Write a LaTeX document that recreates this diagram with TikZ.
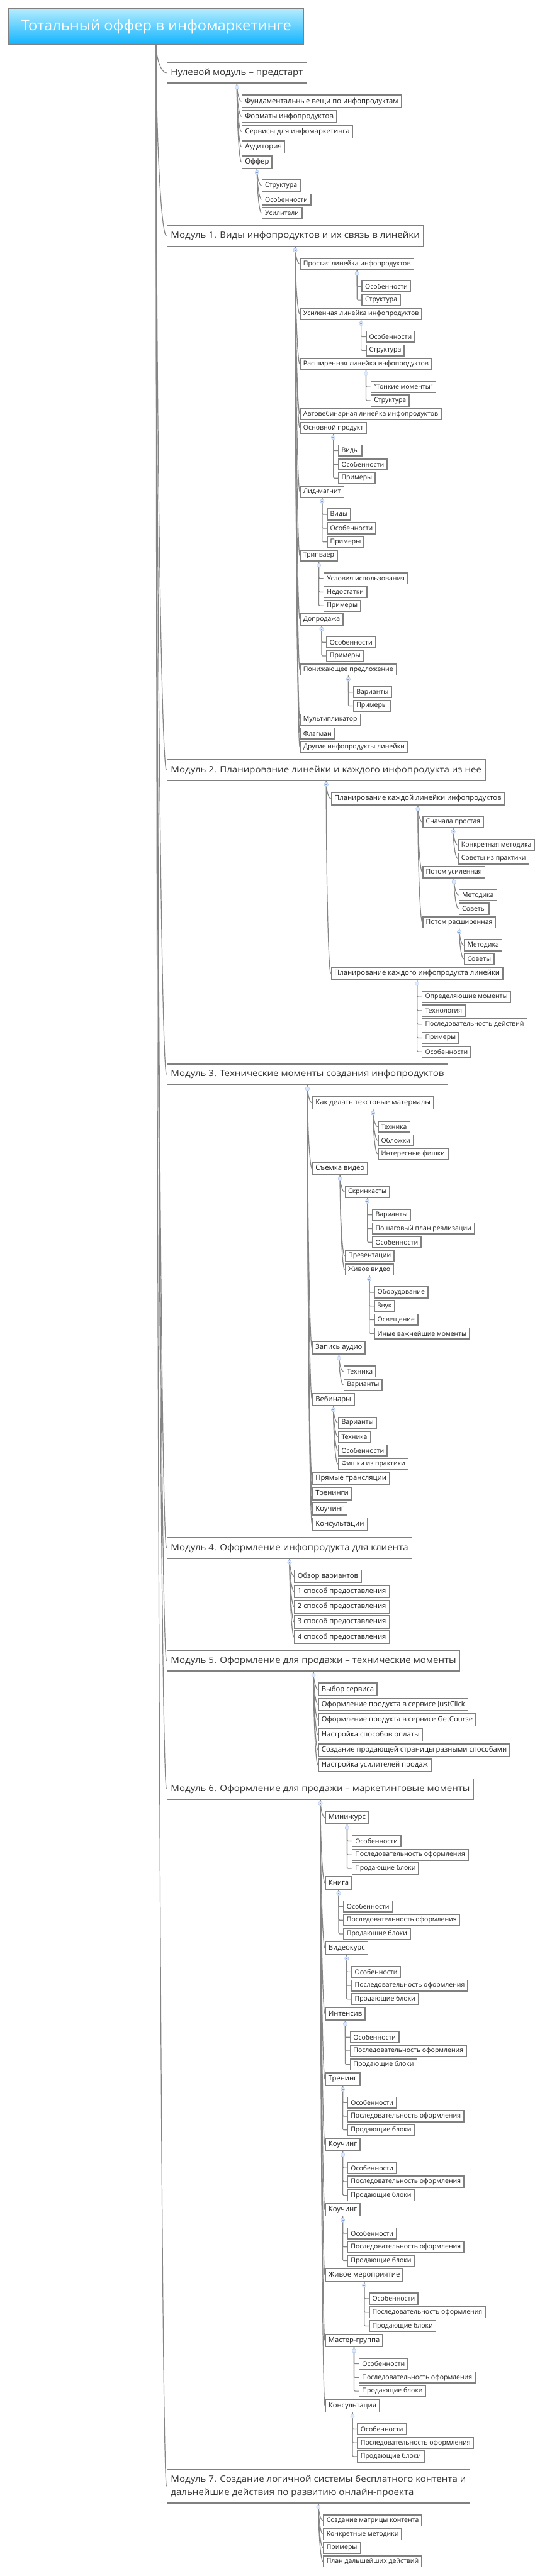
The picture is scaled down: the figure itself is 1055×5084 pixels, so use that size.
\documentclass[tikz,border=0pt]{standalone}
\usepackage{fontspec}
\setmainfont{Open Sans}
\newfontfamily\modfont{Open Sans}[FakeStretch=1.1]
\newfontfamily\titlefont{Open Sans}[FakeStretch=1.05]
\usetikzlibrary{calc}
\definecolor{bord}{HTML}{808080}
\definecolor{lin}{HTML}{858585}
\definecolor{knobf}{HTML}{DDE9FC}
\definecolor{knobd}{HTML}{AFC8F2}
\definecolor{knobm}{HTML}{7E9FD8}
\definecolor{ttop}{HTML}{B4ECFE}
\definecolor{tbot}{HTML}{12B3FE}
\definecolor{txt}{HTML}{1E1E1E}
\definecolor{mtxt}{HTML}{333333}
\tikzset{
 box/.style={draw=bord, line width=2pt, fill=white, text=txt, inner ysep=0pt, inner xsep=6pt},
 big/.style={box, font=\fontsize{14}{16}\selectfont, minimum height=24.7pt},
 sml/.style={box, font=\fontsize{13}{15}\selectfont, minimum height=21.8pt},
 modbox/.style={box, text=mtxt, font=\modfont\fontsize{17}{26.7}\selectfont, minimum height=40.3pt, inner xsep=7.5pt},
 conn/.style={draw=lin, line width=1.5pt},
}
\newcommand\kid[5]{\path (#2.south); \pgfgetlastxy{\kx}{\ky}%
  \node[#4, anchor=north west] (#1) at (\kx+9pt, -#3pt) {#5};}
\newcommand\mdl[3]{\node[modbox, anchor=north west] (#1) at (328.4pt, -#2pt) {#3};}
\newcommand\cv[2]{\draw[conn] (#1.south) .. controls ($(#1.south)!0.5!(#1.south|-#2.west)$) and ($(#1.south|-#2.west)!0.5!(#2.west)$) .. (#2.west);}
\newcommand\el[2]{\draw[conn, rounded corners=2pt] (#1.south) |- (#2.west);}
\newcommand\knob[1]{\filldraw[fill=knobf, draw=knobd, line width=0.7pt] ([yshift=-7pt]#1.south) circle (4pt);
  \draw[knobm, line width=0.8pt] ([xshift=-1.8pt,yshift=-7pt]#1.south) -- ([xshift=1.8pt,yshift=-7pt]#1.south);}
\begin{document}
\begin{tikzpicture}[x=1pt, y=-1pt]
\useasboundingbox (0,0) rectangle (1055,5084);
\fill[white] (0,0) rectangle (1055,5084);
\node[draw=bord, line width=2pt, top color=ttop, bottom color=tbot, minimum width=582pt, minimum height=71pt, anchor=north west, text=white, font=\titlefont\fontsize{28}{32}\selectfont, inner sep=0pt] (r) at (16pt,-16pt) {Тотальный оффер в инфомаркетинге};
% Module 0
\mdl{m0}{122.7}{Нулевой модуль – предстарт}
\kid{m0a}{m0}{186.7}{big}{Фундаментальные вещи по инфопродуктам}
\kid{m0b}{m0}{216.7}{big}{Форматы инфопродуктов}
\kid{m0c}{m0}{246.7}{big}{Сервисы для инфомаркетинга}
\kid{m0d}{m0}{276.7}{big}{Аудитория}
\kid{m0e}{m0}{306.7}{big}{Оффер}
\kid{m0e1}{m0e}{354.3}{sml}{Структура}
\kid{m0e2}{m0e}{381.7}{sml}{Особенности}
\kid{m0e3}{m0e}{408.7}{sml}{Усилители}
% Module 1
\mdl{m1}{444.7}{Модуль 1. Виды инфопродуктов и их связь в линейки}
\kid{m1a}{m1}{509}{sml}{Простая линейка инфопродуктов}
\kid{m1a1}{m1a}{553.3}{sml}{Особенности}
\kid{m1a2}{m1a}{580.3}{sml}{Структура}
\kid{m1b}{m1}{607.7}{sml}{Усиленная линейка инфопродуктов}
\kid{m1b1}{m1b}{652.7}{sml}{Особенности}
\kid{m1b2}{m1b}{679.7}{sml}{Структура}
\kid{m1c}{m1}{706.7}{sml}{Расширенная линейка инфопродуктов}
\kid{m1c1}{m1c}{751.7}{sml}{"Тонкие моменты"}
\kid{m1c2}{m1c}{778.7}{sml}{Структура}
\kid{m1d}{m1}{805.7}{sml}{Автовебинарная линейка инфопродуктов}
\kid{m1e}{m1}{832.7}{sml}{Основной продукт}
\kid{m1e1}{m1e}{877.3}{sml}{Виды}
\kid{m1e2}{m1e}{904.7}{sml}{Особенности}
\kid{m1e3}{m1e}{931.7}{sml}{Примеры}
\kid{m1f}{m1}{958.7}{sml}{Лид-магнит}
\kid{m1f1}{m1f}{1003.3}{sml}{Виды}
\kid{m1f2}{m1f}{1030.7}{sml}{Особенности}
\kid{m1f3}{m1f}{1057.7}{sml}{Примеры}
\kid{m1g}{m1}{1084.7}{sml}{Трипваер}
\kid{m1g1}{m1g}{1129.7}{sml}{Условия использования}
\kid{m1g2}{m1g}{1156.7}{sml}{Недостатки}
\kid{m1g3}{m1g}{1183.7}{sml}{Примеры}
\kid{m1h}{m1}{1210.7}{sml}{Допродажа}
\kid{m1h1}{m1h}{1255.7}{sml}{Особенности}
\kid{m1h2}{m1h}{1282.7}{sml}{Примеры}
\kid{m1i}{m1}{1309.7}{sml}{Понижающее предложение}
\kid{m1i1}{m1i}{1354.3}{sml}{Варианты}
\kid{m1i2}{m1i}{1381.3}{sml}{Примеры}
\kid{m1j}{m1}{1408.3}{sml}{Мультипликатор}
\kid{m1k}{m1}{1435.7}{sml}{Флагман}
\kid{m1l}{m1}{1462.7}{sml}{Другие инфопродукты линейки}
% Module 2
\mdl{m2}{1498.7}{Модуль 2. Планирование линейки и каждого инфопродукта из нее}
\kid{m2a}{m2}{1562.7}{big}{Планирование каждой линейки инфопродуктов}
\kid{m2a1}{m2a}{1610.7}{sml}{Сначала простая}
\kid{m2a11}{m2a1}{1656}{sml}{Конкретная методика}
\kid{m2a12}{m2a1}{1682.7}{sml}{Советы из практики}
\kid{m2a2}{m2a}{1709.7}{sml}{Потом усиленная}
\kid{m2a21}{m2a2}{1754.7}{sml}{Методика}
\kid{m2a22}{m2a2}{1781.7}{sml}{Советы}
\kid{m2a3}{m2a}{1808.7}{sml}{Потом расширенная}
\kid{m2a31}{m2a3}{1853.7}{sml}{Методика}
\kid{m2a32}{m2a3}{1880.7}{sml}{Советы}
\kid{m2b}{m2}{1907.7}{big}{Планирование каждого инфопродукта линейки}
\kid{m2b1}{m2b}{1955.7}{sml}{Определяющие моменты}
\kid{m2b2}{m2b}{1982.7}{sml}{Технология}
\kid{m2b3}{m2b}{2009.7}{sml}{Последовательность действий}
\kid{m2b4}{m2b}{2036.7}{sml}{Примеры}
\kid{m2b5}{m2b}{2063.7}{sml}{Особенности}
% Module 3
\mdl{m3}{2099.3}{Модуль 3. Технические моменты создания инфопродуктов}
\kid{m3a}{m3}{2163.3}{big}{Как делать текстовые материалы}
\kid{m3a1}{m3a}{2211.7}{sml}{Техника}
\kid{m3a2}{m3a}{2238.7}{sml}{Обложки}
\kid{m3a3}{m3a}{2265.7}{sml}{Интересные фишки}
\kid{m3b}{m3}{2292.7}{big}{Съемка видео}
\kid{m3b1}{m3b}{2340.3}{sml}{Скринкасты}
\kid{m3b11}{m3b1}{2385.7}{sml}{Варианты}
\kid{m3b12}{m3b1}{2412.7}{sml}{Пошаговый план реализации}
\kid{m3b13}{m3b1}{2439.7}{sml}{Особенности}
\kid{m3b2}{m3b}{2466.7}{sml}{Презентации}
\kid{m3b3}{m3b}{2493.7}{sml}{Живое видео}
\kid{m3b31}{m3b3}{2538.7}{sml}{Оборудование}
\kid{m3b32}{m3b3}{2565.7}{sml}{Звук}
\kid{m3b33}{m3b3}{2592.7}{sml}{Освещение}
\kid{m3b34}{m3b3}{2619.7}{sml}{Иные важнейшие моменты}
\kid{m3c}{m3}{2646.7}{big}{Запись аудио}
\kid{m3c1}{m3c}{2694.7}{sml}{Техника}
\kid{m3c2}{m3c}{2721.7}{sml}{Варианты}
\kid{m3d}{m3}{2748.7}{big}{Вебинары}
\kid{m3d1}{m3d}{2796.3}{sml}{Варианты}
\kid{m3d2}{m3d}{2823.7}{sml}{Техника}
\kid{m3d3}{m3d}{2850.7}{sml}{Особенности}
\kid{m3d4}{m3d}{2877.7}{sml}{Фишки из практики}
\kid{m3e}{m3}{2904.7}{big}{Прямые трансляции}
\kid{m3f}{m3}{2934.7}{big}{Тренинги}
\kid{m3g}{m3}{2964.7}{big}{Коучинг}
\kid{m3h}{m3}{2994.7}{big}{Консультации}
% Module 4
\mdl{m4}{3034}{Модуль 4. Оформление инфопродукта для клиента}
\kid{m4a}{m4}{3097.7}{big}{Обзор вариантов}
\kid{m4b}{m4}{3127.7}{big}{1 способ предоставления}
\kid{m4c}{m4}{3157.7}{big}{2 способ предоставления}
\kid{m4d}{m4}{3187.7}{big}{3 способ предоставления}
\kid{m4e}{m4}{3217.7}{big}{4 способ предоставления}
% Module 5
\mdl{m5}{3256.7}{Модуль 5. Оформление для продажи – технические моменты}
\kid{m5a}{m5}{3320.7}{big}{Выбор сервиса}
\kid{m5b}{m5}{3350.7}{big}{Оформление продукта в сервисе JustClick}
\kid{m5c}{m5}{3380.7}{big}{Оформление продукта в сервисе GetCourse}
\kid{m5d}{m5}{3410.7}{big}{Настройка способов оплаты}
\kid{m5e}{m5}{3440.7}{big}{Создание продающей страницы разными способами}
\kid{m5f}{m5}{3470.7}{big}{Настройка усилителей продаж}
% Module 6
\mdl{m6}{3509.7}{Модуль 6. Оформление для продажи – маркетинговые моменты}
\kid{m6a}{m6}{3573.7}{big}{Мини-курс}
\kid{m6a1}{m6a}{3621.7}{sml}{Особенности}
\kid{m6a2}{m6a}{3648.7}{sml}{Последовательность оформления}
\kid{m6a3}{m6a}{3675.7}{sml}{Продающие блоки}
\kid{m6b}{m6}{3702.7}{big}{Книга}
\kid{m6b1}{m6b}{3750.7}{sml}{Особенности}
\kid{m6b2}{m6b}{3777.7}{sml}{Последовательность оформления}
\kid{m6b3}{m6b}{3804.7}{sml}{Продающие блоки}
\kid{m6c}{m6}{3831.3}{big}{Видеокурс}
\kid{m6c1}{m6c}{3879.7}{sml}{Особенности}
\kid{m6c2}{m6c}{3906.7}{sml}{Последовательность оформления}
\kid{m6c3}{m6c}{3933.7}{sml}{Продающие блоки}
\kid{m6d}{m6}{3960.7}{big}{Интенсив}
\kid{m6d1}{m6d}{4008.7}{sml}{Особенности}
\kid{m6d2}{m6d}{4035.7}{sml}{Последовательность оформления}
\kid{m6d3}{m6d}{4062.7}{sml}{Продающие блоки}
\kid{m6e}{m6}{4090}{big}{Тренинг}
\kid{m6e1}{m6e}{4137.7}{sml}{Особенности}
\kid{m6e2}{m6e}{4164.7}{sml}{Последовательность оформления}
\kid{m6e3}{m6e}{4191.7}{sml}{Продающие блоки}
\kid{m6f}{m6}{4218.7}{big}{Коучинг}
\kid{m6f1}{m6f}{4266.7}{sml}{Особенности}
\kid{m6f2}{m6f}{4293.7}{sml}{Последовательность оформления}
\kid{m6f3}{m6f}{4320.7}{sml}{Продающие блоки}
\kid{m6g}{m6}{4347.7}{big}{Коучинг}
\kid{m6g1}{m6g}{4395.7}{sml}{Особенности}
\kid{m6g2}{m6g}{4422.7}{sml}{Последовательность оформления}
\kid{m6g3}{m6g}{4449.7}{sml}{Продающие блоки}
\kid{m6h}{m6}{4476.7}{big}{Живое мероприятие}
\kid{m6h1}{m6h}{4524.7}{sml}{Особенности}
\kid{m6h2}{m6h}{4551.7}{sml}{Последовательность оформления}
\kid{m6h3}{m6h}{4578.7}{sml}{Продающие блоки}
\kid{m6i}{m6}{4605.7}{big}{Мастер-группа}
\kid{m6i1}{m6i}{4653.3}{sml}{Особенности}
\kid{m6i2}{m6i}{4680.3}{sml}{Последовательность оформления}
\kid{m6i3}{m6i}{4707.3}{sml}{Продающие блоки}
\kid{m6j}{m6}{4734.7}{big}{Консультация}
\kid{m6j1}{m6j}{4782.3}{sml}{Особенности}
\kid{m6j2}{m6j}{4809.3}{sml}{Последовательность оформления}
\kid{m6j3}{m6j}{4836.3}{sml}{Продающие блоки}
% Module 7
\node[modbox, anchor=north west, align=left, minimum height=66.3pt] (m7) at (328.4pt,-4872.7pt) {Модуль 7. Создание логичной системы бесплатного контента и\\дальнейшие действия по развитию онлайн-проекта};
\kid{m7a}{m7}{4962.7}{sml}{Создание матрицы контента}
\kid{m7b}{m7}{4989.7}{sml}{Конкретные методики}
\kid{m7c}{m7}{5016.7}{sml}{Примеры}
\kid{m7d}{m7}{5043.3}{sml}{План дальшейших действий}
% connectors
\foreach \c in {m0,m1,m2,m3,m4,m5,m6,m7} {\cv{r}{\c}}
\foreach \c in {m0a,m0b,m0c,m0d,m0e} {\cv{m0}{\c}}
\foreach \c in {m0e1,m0e2,m0e3} {\cv{m0e}{\c}}
\foreach \c in {m1a,m1b,m1c,m1d,m1e,m1f,m1g,m1h,m1i,m1j,m1k,m1l} {\cv{m1}{\c}}
\foreach \p/\c in {m1a/m1a1,m1a/m1a2,m1b/m1b1,m1b/m1b2,m1c/m1c1,m1c/m1c2,m1e/m1e1,m1e/m1e2,m1e/m1e3,m1f/m1f1,m1f/m1f2,m1f/m1f3,m1g/m1g1,m1g/m1g2,m1g/m1g3,m1h/m1h1,m1h/m1h2,m1i/m1i1,m1i/m1i2} {\el{\p}{\c}}
\foreach \p/\c in {m2/m2a,m2/m2b,m2a/m2a1,m2a/m2a2,m2a/m2a3,m2a1/m2a11,m2a1/m2a12,m2a2/m2a21,m2a2/m2a22,m2a3/m2a31,m2a3/m2a32} {\cv{\p}{\c}}
\foreach \c in {m2b1,m2b2,m2b3,m2b4,m2b5} {\el{m2b}{\c}}
\foreach \p/\c in {m3/m3a,m3/m3b,m3/m3c,m3/m3d,m3/m3e,m3/m3f,m3/m3g,m3/m3h,m3a/m3a1,m3a/m3a2,m3a/m3a3,m3b/m3b1,m3b/m3b2,m3b/m3b3,m3c/m3c1,m3c/m3c2,m3d/m3d1,m3d/m3d2,m3d/m3d3,m3d/m3d4} {\cv{\p}{\c}}
\foreach \p/\c in {m3b1/m3b11,m3b1/m3b12,m3b1/m3b13,m3b3/m3b31,m3b3/m3b32,m3b3/m3b33,m3b3/m3b34} {\el{\p}{\c}}
\foreach \c in {m4a,m4b,m4c,m4d,m4e} {\cv{m4}{\c}}
\foreach \c in {m5a,m5b,m5c,m5d,m5e,m5f} {\cv{m5}{\c}}
\foreach \c in {a,b,c,d,e,f,g,h,i,j} {\cv{m6}{m6\c}\el{m6\c}{m6\c1}\el{m6\c}{m6\c2}\el{m6\c}{m6\c3}}
\foreach \c in {m7a,m7b,m7c,m7d} {\cv{m7}{\c}}
% knobs
\foreach \k in {m0,m0e,m1,m1a,m1b,m1c,m1e,m1f,m1g,m1h,m1i,m2,m2a,m2a1,m2a2,m2a3,m2b,m3,m3a,m3b,m3b1,m3b3,m3c,m3d,m4,m5,m6,m6a,m6b,m6c,m6d,m6e,m6f,m6g,m6h,m6i,m6j,m7} {\knob{\k}}
\end{tikzpicture}
\end{document}
